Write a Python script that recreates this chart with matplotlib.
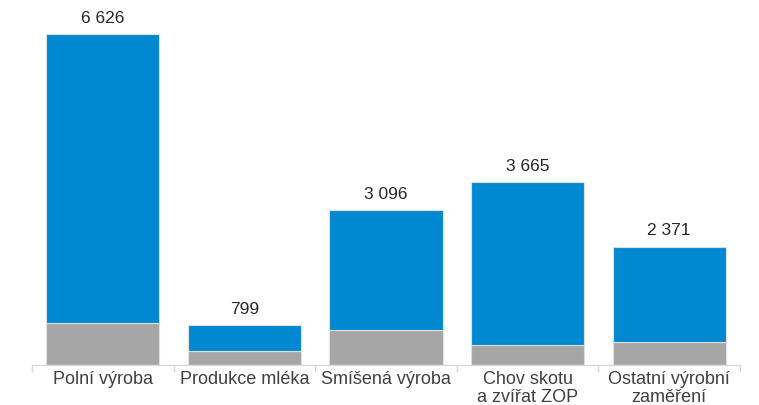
import matplotlib
matplotlib.use("Agg")
import matplotlib.pyplot as plt

categories = ["Polní výroba", "Produkce mléka", "Smíšená výroba", "Chov skotu\na zvířat ZOP", "Ostatní výrobní\nzaměření"]
totals = [6626, 799, 3096, 3665, 2371]
gray_part = [840, 280, 700, 400, 455]
total_labels = ["6 626", "799", "3 096", "3 665", "2 371"]
blue_part = [t - g for t, g in zip(totals, gray_part)]

plt.rcParams['font.family'] = ['Liberation Sans', 'DejaVu Sans']

fig = plt.figure(figsize=(7.59, 4.05), dpi=100)
ax = fig.add_axes([32/759, 1 - 365/405, (740-32)/759, 365/405])

x = list(range(len(categories)))
ax.bar(x, gray_part, width=0.8, color="#A6A6A6", edgecolor="#E0E0E0", linewidth=0.8)
ax.bar(x, blue_part, bottom=gray_part, width=0.8, color="#0088D1", edgecolor="#E0E0E0", linewidth=0.8)

for xi, t, lab in zip(x, totals, total_labels):
    ax.annotate(lab, (xi, t), xytext=(0, 6), textcoords="offset points",
                ha="center", va="bottom", fontsize=12.5, color="#262626")

ax.set_xlim(-0.5, 4.5)
ax.set_ylim(0, 7307)
ax.set_xticks(x)
ax.set_xticklabels(categories, fontsize=13, color="#404040", linespacing=1.12)
ax.set_xticks([i - 0.5 for i in range(len(categories) + 1)], minor=True)
ax.tick_params(axis="x", which="major", length=0, pad=4)
ax.tick_params(axis="x", which="minor", length=5, color="#D9D9D9", width=1)
ax.set_yticks([])
for s in ["top", "right", "left"]:
    ax.spines[s].set_visible(False)
ax.spines["bottom"].set_color("#D9D9D9")
ax.spines["bottom"].set_linewidth(1)

fig.savefig("out.png", dpi=100)
